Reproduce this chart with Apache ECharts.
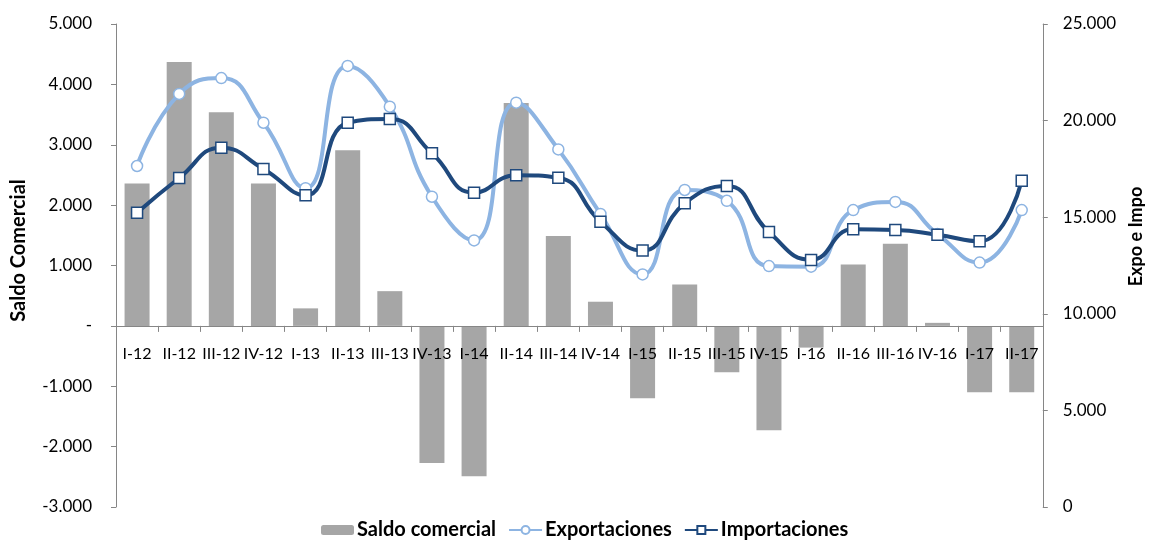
<!DOCTYPE html>
<html><head><meta charset="utf-8">
<script src="https://cdn.jsdelivr.net/npm/echarts@6/dist/echarts.min.js"></script>
<style>html,body{margin:0;padding:0;background:#fff}#c{width:1153px;height:543px}</style>
</head><body><div id="c"></div>
<script>
const categories = ['I-12','II-12','III-12','IV-12','I-13','II-13','III-13','IV-13','I-14','II-14','III-14','IV-14','I-15','II-15','III-15','IV-15','I-16','II-16','III-16','IV-16','I-17','II-17'];
const saldoComercial = [2360, 4370, 3540, 2360, 290, 2910, 575, -2270, -2490, 3690, 1490, 400, -1200, 685, -770, -1730, -360, 1015, 1360, 50, -1100, -1100];
const exportaciones = [17650, 21380, 22200, 19890, 16500, 22830, 20720, 16060, 13800, 20930, 18510, 15170, 12040, 16410, 15850, 12470, 12440, 15370, 15790, 14130, 12650, 15370];
const importaciones = [15230, 17030, 18600, 17500, 16130, 19890, 20080, 18310, 16270, 17170, 17040, 14770, 13270, 15720, 16620, 14230, 12790, 14370, 14340, 14090, 13750, 16890];
const leftMin = -3000, leftMax = 5000;

const FONT = 'Lato, "Liberation Sans", sans-serif';
function fmt(v){
  if (v === 0) return '-';
  const s = Math.abs(v).toString().replace(/\B(?=(\d{3})+(?!\d))/g, '.');
  return (v < 0 ? '-' : '') + s;
}
function fmtR(v){
  if (v === 0) return '0';
  return Math.abs(v).toString().replace(/\B(?=(\d{3})+(?!\d))/g, '.');
}
const GRID_TOP = 24, GRID_BOTTOM = 36, H = 543;
const plotH = H - GRID_TOP - GRID_BOTTOM;
const zeroOffset = -plotH * (0 - leftMin) / (leftMax - leftMin);
const axisColor = '#868686';
const chart = echarts.init(document.getElementById('c'), null, {renderer:'canvas'});
chart.setOption({
  animation: false,
  textStyle: {fontFamily: FONT},
  grid: {left: 116, right: 97, top: GRID_TOP, bottom: GRID_BOTTOM, containLabel: false},
  legend: {
    top: 520, left: 321, itemGap: 12, itemWidth: 33, itemHeight: 10, padding: 0,
    textStyle: {fontFamily: FONT, fontSize: 20, fontWeight: 'bold', color: '#000', padding: [0,0,0,-2]},
    data: ['Saldo comercial', 'Exportaciones', 'Importaciones']
  },
  xAxis: {
    type: 'category', data: categories, z: 10, position: 'bottom', offset: zeroOffset,
    axisLine: {onZero: false, lineStyle: {color: axisColor, width: 1}},
    axisTick: {show: true, length: 6, lineStyle: {color: axisColor}},
    axisLabel: {interval: 0, margin: 20, fontSize: 16, color: '#000', fontFamily: FONT},
    splitLine: {show: false}
  },
  yAxis: [{
    type: 'value', min: leftMin, max: leftMax, interval: 1000, position: 'left',
    name: 'Saldo Comercial', nameLocation: 'middle', nameGap: 87, nameRotate: 90,
    nameTextStyle: {fontFamily: FONT, fontSize: 20, fontWeight: 'bold', color: '#000', padding: [0,0,0,30]},
    axisLine: {show: true, onZero: false, lineStyle: {color: axisColor}},
    axisTick: {show: true, length: 5, lineStyle: {color: axisColor}},
    axisLabel: {formatter: fmt, fontSize: 17, color: '#000', margin: 24, fontFamily: FONT},
    splitLine: {show: false}
  }, {
    type: 'value', min: 0, max: 25000, interval: 5000, position: 'right',
    name: 'Expo e Impo', nameLocation: 'middle', nameGap: 79, nameRotate: 90,
    nameTextStyle: {fontFamily: FONT, fontSize: 18, fontWeight: 'bold', color: '#000', padding: [0,0,0,58]},
    axisLine: {show: true, onZero: false, lineStyle: {color: axisColor}},
    axisTick: {show: true, length: 5, lineStyle: {color: axisColor}},
    axisLabel: {formatter: fmtR, fontSize: 17, color: '#000', margin: 20, fontFamily: FONT},
    splitLine: {show: false}
  }],
  series: [{
    name: 'Saldo comercial', type: 'bar', yAxisIndex: 0, data: saldoComercial,
    barWidth: 25, itemStyle: {color: '#A6A6A6'}
  }, {
    name: 'Exportaciones', type: 'line', yAxisIndex: 1, data: exportaciones,
    smooth: 0.5, symbol: 'circle', symbolSize: 11,
    lineStyle: {color: '#8DB4E2', width: 4},
    itemStyle: {color: '#ffffff', borderColor: '#8DB4E2', borderWidth: 1.5}
  }, {
    name: 'Importaciones', type: 'line', yAxisIndex: 1, data: importaciones,
    smooth: 0.5, symbol: 'rect', symbolSize: 11,
    lineStyle: {color: '#1F497D', width: 4},
    itemStyle: {color: '#ffffff', borderColor: '#1F497D', borderWidth: 1.5}
  }]
});
</script>
</body></html>
